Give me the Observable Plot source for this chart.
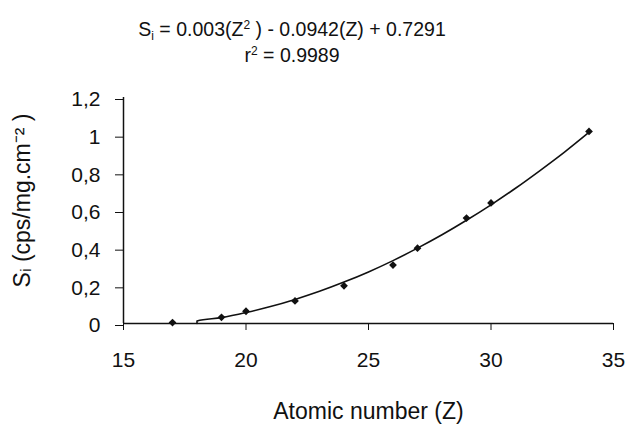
<!DOCTYPE html>
<html>
<head>
<meta charset="utf-8">
<script src="https://cdn.jsdelivr.net/npm/d3@7"></script>
<script src="https://cdn.jsdelivr.net/npm/@observablehq/plot@0.6"></script>
<style>
  html, body { margin: 0; padding: 0; background: #fff; }
  body { width: 632px; height: 429px; overflow: hidden; font-family: "Liberation Sans", Arial, sans-serif; color: #111; }
  #title { box-sizing: border-box; height: 80px; width: 584px; padding-top: 16px; text-align: center; font-size: 19.5px; line-height: 26px; }
  #title sub, #title sup { font-size: 12px; line-height: 0; }
  #title sub { vertical-align: -4px; }
  #title sup { vertical-align: 7px; }
  #chart svg { display: block; }
</style>
</head>
<body>
<div id="title">
  <div>S<sub>i</sub> = 0.003(Z<sup>2</sup> ) - 0.0942(Z) + 0.7291</div>
  <div>r<sup>2</sup> = 0.9989</div>
</div>
<div id="chart"></div>
<script>
// Measured points
const atomicNumbers = [17, 19, 20, 22, 24, 26, 27, 29, 30, 34];
const sensitivities = [0.005, 0.033, 0.065, 0.12, 0.20, 0.31, 0.40, 0.56, 0.64, 1.02];

// Fitted trend curve
const curveZ = [18, 18, 19, 20, 21, 22, 23, 24, 25, 26, 27, 28, 29, 30, 31, 32, 33, 34];
const curveS = [0, 0.013, 0.031, 0.058, 0.09, 0.128, 0.171, 0.22, 0.274, 0.334, 0.40, 0.471, 0.548, 0.63, 0.718, 0.812, 0.91, 1.015];

// Axis ticks and labels
const xTicks = [15, 20, 25, 30, 35];
const yTicks = [0, 0.2, 0.4, 0.6, 0.8, 1.0, 1.2];
const xLabel = "Atomic number (Z)";
const yLabel = "Sᵢ (cps/mg.cm⁻² )";

const points = atomicNumbers.map((z, i) => ({z, s: sensitivities[i]}));
const curve = curveZ.map((z, i) => ({z, s: curveS[i]}));

const chart = Plot.plot({
  width: 632,
  height: 349,
  marginTop: 17,
  marginBottom: 106,
  marginLeft: 123,
  marginRight: 19,
  style: {fontFamily: "'Liberation Sans', Arial, sans-serif", fontSize: "21px", color: "#111", background: "#fff"},
  x: {domain: [15, 35]},
  y: {domain: [0, 1.2]},
  marks: [
    Plot.axisX({
      ticks: xTicks, tickSize: 7, tickPadding: 22, fontSize: 21, stroke: "#111",
      label: null
    }),
    Plot.text([xLabel], {frameAnchor: "bottom", textAnchor: "middle", lineAnchor: "bottom", dy: 95, fontSize: 23, fill: "#111"}),
    Plot.axisY({
      ticks: yTicks, tickSize: 8, tickPadding: 15, fontSize: 21, stroke: "#111", dy: 2,
      tickFormat: d => String(d).replace(".", ","), label: null
    }),
    Plot.text([yLabel], {frameAnchor: "left", rotate: -90, textAnchor: "middle", lineAnchor: "top", dx: -110, dy: -10, fontSize: 23, fill: "#111"}),
    Plot.ruleY([0], {stroke: "#111", strokeWidth: 1.5}),
    Plot.ruleX([15], {stroke: "#111", strokeWidth: 1.5}),
    Plot.line(curve, {x: "z", y: "s", stroke: "#111", strokeWidth: 1.6, curve: "monotone-x"}),
    Plot.dot(points, {x: "z", y: "s", symbol: "diamond2", r: 3.5, fill: "#111", stroke: "none"})
  ]
});
document.getElementById("chart").appendChild(chart);
</script>
</body>
</html>
